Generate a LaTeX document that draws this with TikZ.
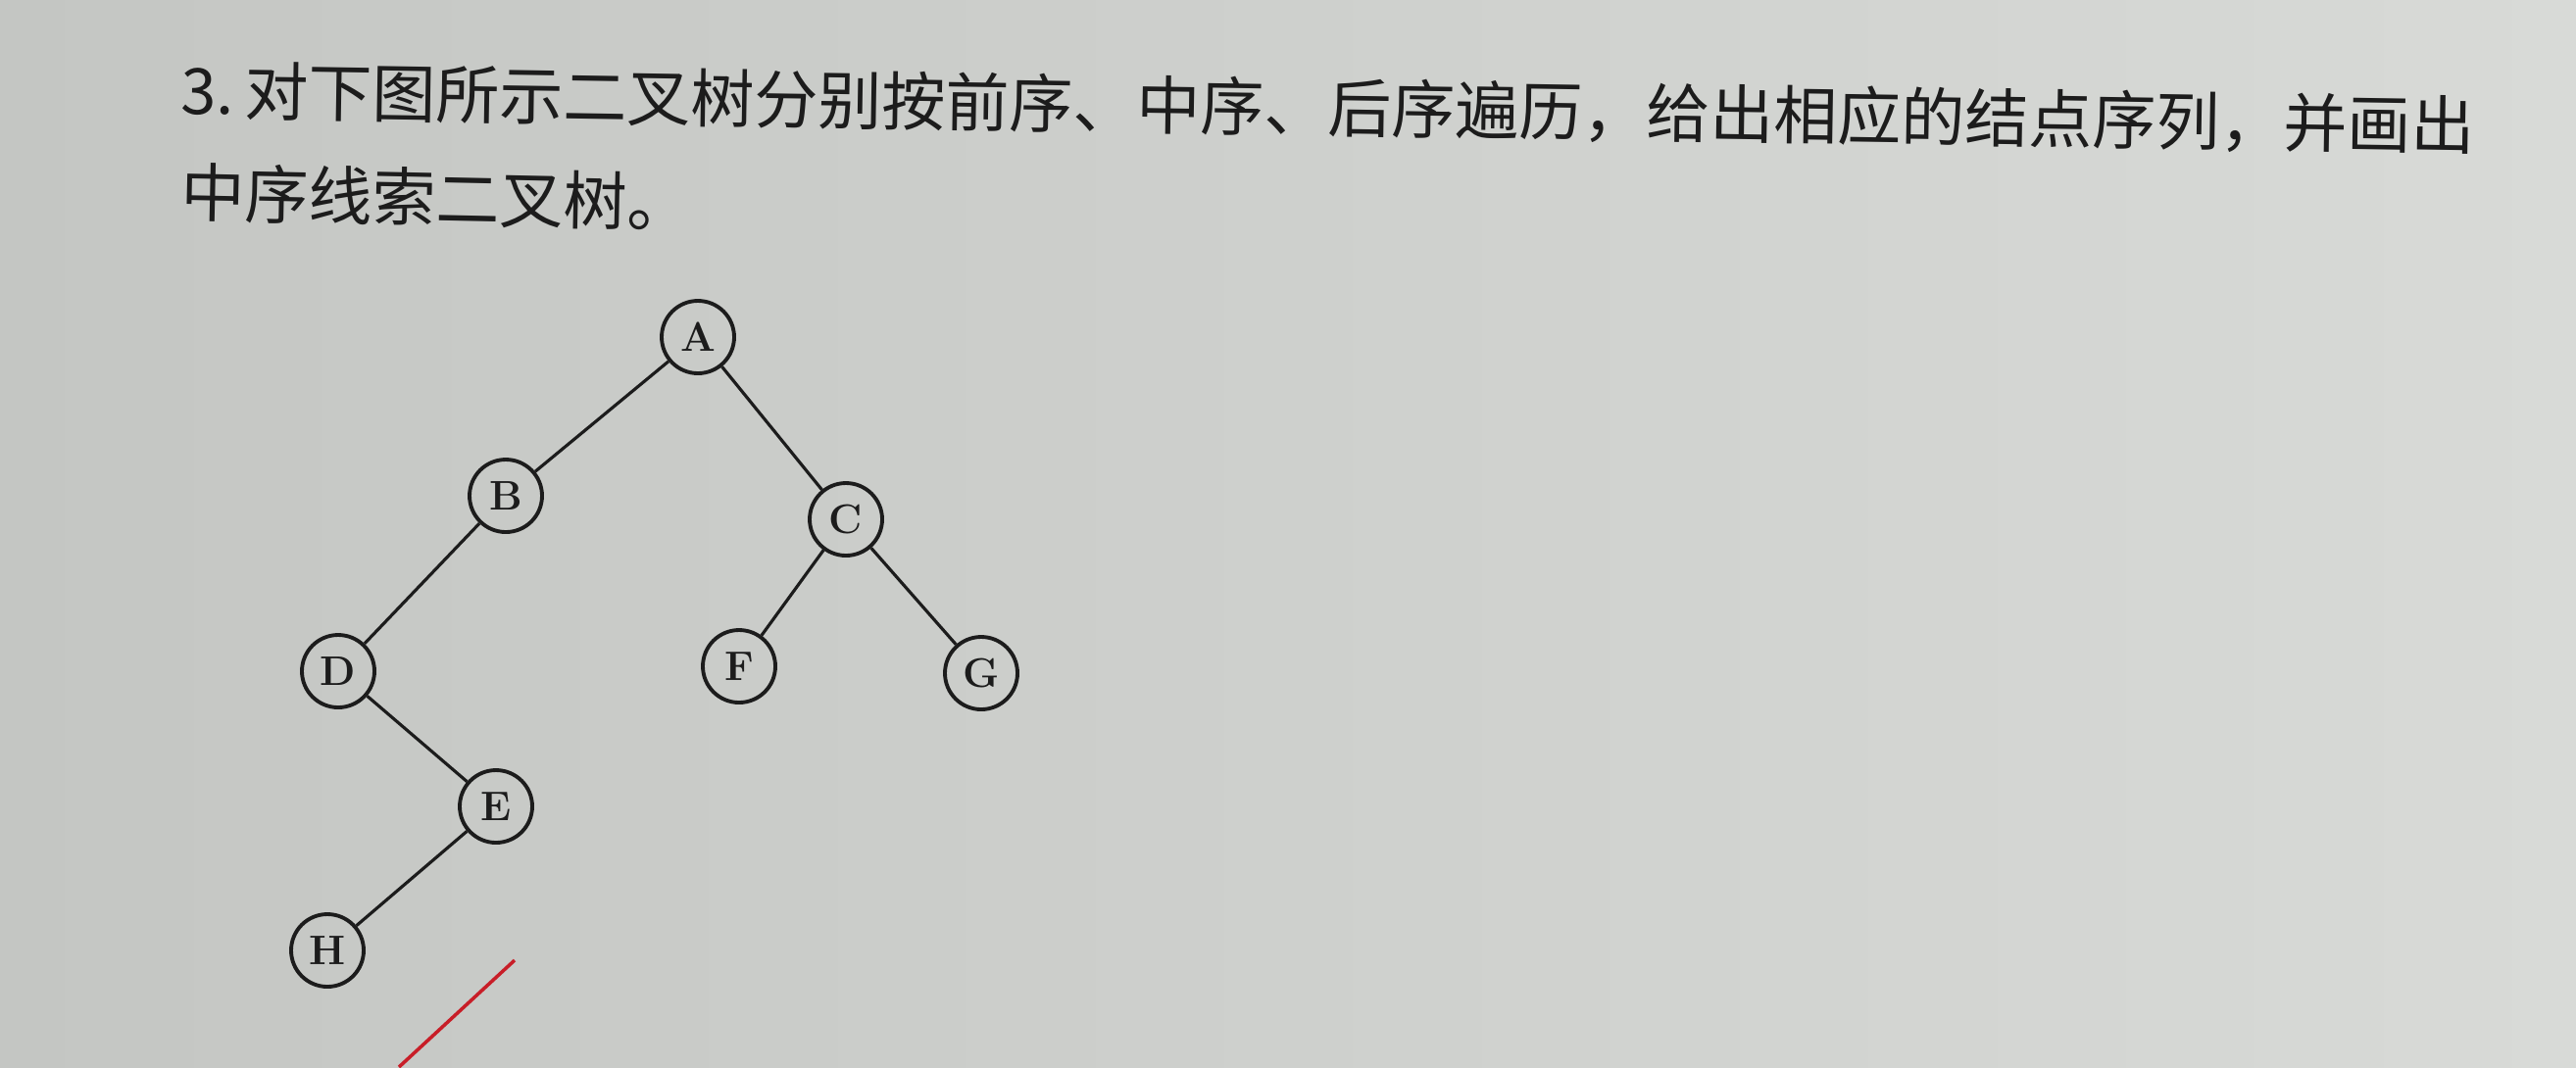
\documentclass[tikz,border=0pt]{standalone}
\usepackage{fontspec}
\newfontfamily\cjk{Noto Sans CJK SC}
\definecolor{paperdark}{RGB}{196,198,195}
\definecolor{paperlight}{RGB}{216,218,215}
\definecolor{ink}{RGB}{28,28,28}
\definecolor{pen}{RGB}{200,30,40}
\begin{document}
\begin{tikzpicture}[x=0.1mm, y=-0.1mm]
    \tikzstyle{vertex}=[draw=ink,shape=circle,line width=1.1pt,minimum size=7.4mm,inner sep=0pt,text=ink,font=\bfseries\fontsize{12}{12}\selectfont]
    \tikzstyle{branch}=[draw=ink,line width=0.9pt]
    \tikzstyle{question}=[anchor=west,inner sep=0pt,text=ink,font=\cjk\fontsize{18.5}{18.5}\selectfont]
    % page
    \shade[left color=paperdark, right color=paperlight] (0,0) rectangle (2628,1089);
    \useasboundingbox (0,0) rectangle (2628,1089);

    % question text
    \node [question, rotate=-0.9] (line1) at (184,92) {3.\,对下图所示二叉树分别按前序、中序、后序遍历，给出相应的结点序列，并画出};
    \node [question, rotate=-1.2] (line2) at (184,196) {中序线索二叉树。};

    % draw nodes
    \foreach \n/\x/\y in {A/712/344, B/516/506, C/863/530, D/345/685,
                          F/754/680, G/1001/687, E/506/823, H/334/970}
    \node [vertex] (\n) at (\x,\y) {\n};

    % draw branches
    \foreach \i/\j in {A/B, A/C, B/D, C/F, C/G, D/E, E/H}
    \draw [branch] (\i) -- (\j);

    % pen mark
    \coordinate (penA) at (407,1089);
    \coordinate (penB) at (525,980);
    \draw [pen, line width=1pt] (penA) -- (penB);
\end{tikzpicture}
\end{document}
